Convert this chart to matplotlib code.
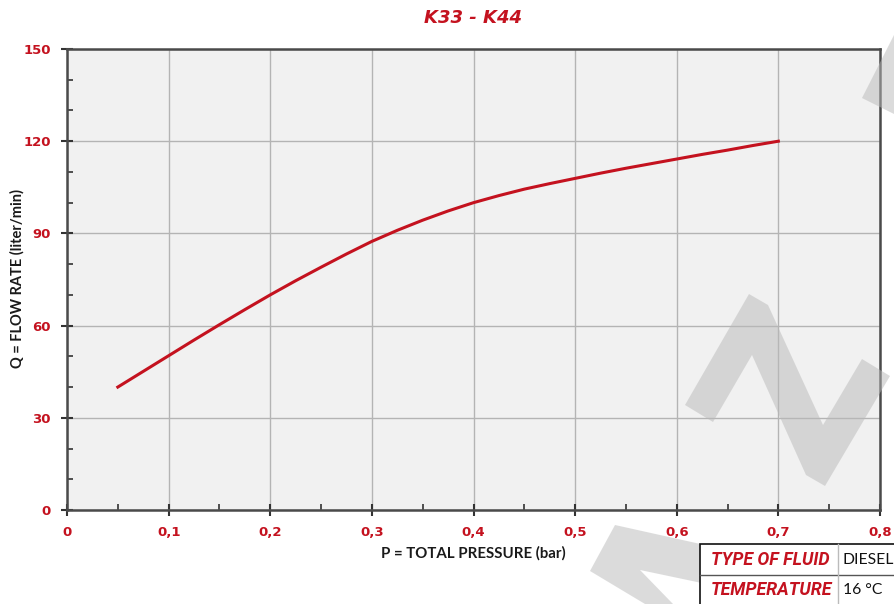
import matplotlib
matplotlib.use("Agg")
import matplotlib.pyplot as plt
from matplotlib.patches import Polygon, Rectangle
from matplotlib.lines import Line2D
from matplotlib.ticker import MultipleLocator, FuncFormatter

# ---- data ----
pressure = [0.05, 0.075, 0.10, 0.125, 0.15, 0.175, 0.20, 0.225, 0.25, 0.275, 0.30, 0.325,
            0.35, 0.375, 0.40, 0.425, 0.45, 0.475, 0.50, 0.525, 0.55, 0.575, 0.60, 0.625,
            0.65, 0.675, 0.70]
flow = [40, 45.1, 50.2, 55.3, 60.3, 65.2, 70, 74.6, 79, 83.3, 87.4, 91.0,
        94.3, 97.3, 100, 102.3, 104.4, 106.2, 107.9, 109.6, 111.2, 112.7, 114.2, 115.7,
        117.1, 118.6, 120]
x_ticks = [0, 0.1, 0.2, 0.3, 0.4, 0.5, 0.6, 0.7, 0.8]
y_ticks = [0, 30, 60, 90, 120, 150]
title = "K33 - K44"
x_label = "P = TOTAL PRESSURE (bar)"
y_label = "Q = FLOW RATE (liter/min)"
table_rows = [("TYPE OF FLUID", "DIESEL"), ("TEMPERATURE", "16 °C")]

RED = "#c4121f"
W, H = 894, 604

fig = plt.figure(figsize=(W / 100, H / 100), dpi=100)
fig.patch.set_facecolor("white")

def fx(px):
    return px / W

def fy(py):
    return 1 - py / H

ax = fig.add_axes([fx(67), fy(510), fx(880) - fx(67), fy(49) - fy(510)])
ax.set_facecolor("#f1f1f1")
ax.plot(pressure, flow, color=RED, lw=2.2, solid_joinstyle="round", zorder=3)

ax.set_xlim(0, 0.8)
ax.set_ylim(0, 150)
ax.set_xticks(x_ticks)
ax.set_yticks(y_ticks)
ax.xaxis.set_minor_locator(MultipleLocator(0.05))
ax.yaxis.set_minor_locator(MultipleLocator(10))
ax.xaxis.set_major_formatter(FuncFormatter(lambda v, p: "0" if abs(v) < 1e-9 else f"{v:.1f}".replace(".", ",")))
ax.yaxis.set_major_formatter(FuncFormatter(lambda v, p: f"{int(round(v))}"))
ax.grid(True, which="major", color="#b4b4b4", lw=1.0)
ax.set_axisbelow(True)

for s in ax.spines.values():
    s.set_color("#4a4a4a")
    s.set_linewidth(1.8)

ax.tick_params(which="major", direction="inout", length=9, width=1.5, color="#333333",
               labelcolor=RED, labelsize=9.5, pad=7)
ax.tick_params(which="minor", direction="in", length=4, width=1.2, color="#333333")
for lab in ax.get_xticklabels() + ax.get_yticklabels():
    lab.set_fontweight("bold")
    lab.set_fontfamily("DejaVu Sans")

fig.text(fx(473), fy(18), title, color=RED, fontsize=13, fontweight="bold",
         fontstyle="italic", ha="center", va="center", family="DejaVu Sans")
fig.text(fx(473), fy(553), x_label, color="#1a1a1a", fontsize=10.8, fontweight="bold",
         ha="center", va="center", family="Lato")
fig.text(fx(17), fy(278), y_label, color="#1a1a1a", fontsize=10.5, fontweight="bold",
         ha="center", va="center", rotation=90, family="Lato")

# ---- watermark shapes (decorative) ----
wm = dict(facecolor="#b9b9b9", alpha=0.5, edgecolor="none", zorder=5)
shapes = [
    [(685, 405), (749, 294), (768, 305), (823, 425), (862, 359), (890, 376),
     (825, 486), (806, 475), (752, 355), (713, 422)],
    [(894, 35), (862, 98), (894, 114)],
    [(615, 525), (705, 545), (705, 584), (697, 582), (640, 570), (673, 604),
     (645, 604), (590, 571)],
]
for pts in shapes:
    fig.add_artist(Polygon([(fx(x), fy(y)) for x, y in pts], closed=True,
                           transform=fig.transFigure, **wm))

# ---- info table ----
fig.add_artist(Rectangle((fx(700), fy(606)), fx(900) - fx(700), fy(544) - fy(606),
                         transform=fig.transFigure, facecolor="white",
                         edgecolor="#111111", lw=1.2, zorder=8))
fig.add_artist(Line2D([fx(700), fx(894)], [fy(575), fy(575)], transform=fig.transFigure,
                      color="#555555", lw=1.0, zorder=9))
fig.add_artist(Line2D([fx(838), fx(838)], [fy(544), fy(604)], transform=fig.transFigure,
                      color="#bbbbbb", lw=1.0, zorder=9))
row_y = [560, 590]
for (k, v), yy in zip(table_rows, row_y):
    fig.text(fx(711), fy(yy), k, color=RED, fontsize=12.8, fontweight="bold",
             fontstyle="italic", ha="left", va="center", family="Roboto", zorder=10)
    fig.text(fx(843), fy(yy), v, color="#111111", fontsize=11.3,
             ha="left", va="center", family="Lato", zorder=10)

fig.savefig("out.png", dpi=100)
